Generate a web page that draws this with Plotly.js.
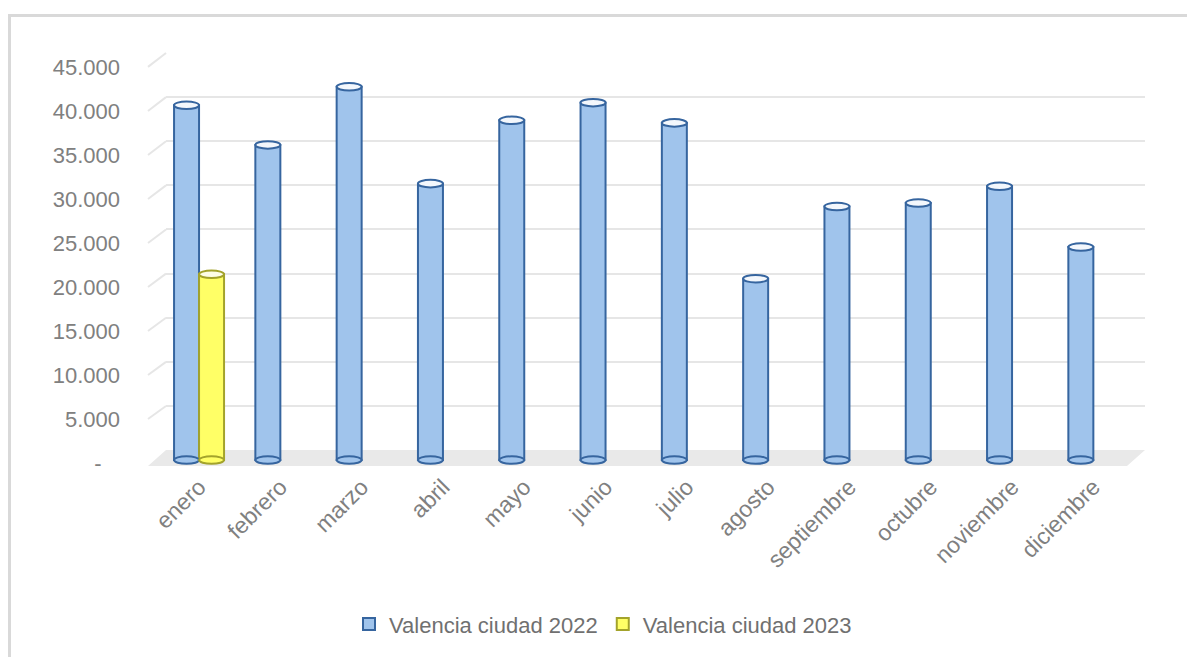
<!DOCTYPE html>
<html>
<head>
<meta charset="utf-8">
<script src="https://cdn.plot.ly/plotly-3.0.1.min.js"></script>
<style>
  html, body { margin: 0; padding: 0; background: #ffffff; }
  #chart { width: 1187px; height: 657px; }
  #frame { position: absolute; left: 8px; top: 14px; width: 1179px; height: 643px;
           border-top: 3px solid #d9d9d9; border-left: 3px solid #d9d9d9; box-sizing: border-box;
           pointer-events: none; }
</style>
</head>
<body>
<div id="chart"></div>
<div id="frame"></div>
<script>
// ---- data ----
const months = ['enero','febrero','marzo','abril','mayo','junio','julio','agosto','septiembre','octubre','noviembre','diciembre'];
const v2022 = [40300, 35800, 42400, 31400, 38600, 40600, 38300, 20600, 28800, 29200, 31100, 24200];
const v2023 = [21100, null, null, null, null, null, null, null, null, null, null, null];
const seriesNames = ['Valencia ciudad 2022', 'Valencia ciudad 2023'];
const tickVals = [0, 5000, 10000, 15000, 20000, 25000, 30000, 35000, 40000, 45000];
const tickText = ['-\u00a0\u00a0\u00a0', '5.000', '10.000', '15.000', '20.000', '25.000', '30.000', '35.000', '40.000', '45.000'];

// ---- geometry helpers (pixel -> paper) ----
const L = 148, R = 1147, T = 49, B = 470;
const pw = R - L, ph = B - T;
const px2x = p => (p - L) / pw;
const px2y = p => (B - p) / ph;

// front (bars) axis: 0 at 462px, 45000 at 64px
const frontZero = 462, frontTop = 64;
const k = (frontZero - frontTop) / 45000;
const yMin = -(B - frontZero) / k;
// back wall: 0 at 452px, 45000 at 53px
const backZero = 452, backTop = 53;
// label axis: 0 at 465px, 45000 at 67px
const labZero = 465, labTop = 67;

const bargap = 0.385;
const bw = (1 - bargap) / 2;
const offs = [-bw / 2, bw / 2];
const ellH = 3.8 / k;

const blueFill = 'rgb(160,196,236)';
const blueLine = '#36659f';
const yelFill = 'rgb(255,255,102)';
const yelLine = '#a3a32b';

const traces = [
  { type: 'scatter', x: [], y: [], xaxis: 'x', yaxis: 'y', showlegend: false, hoverinfo: 'skip' },
  { type: 'bar', name: seriesNames[0], x: months, y: v2022, xaxis: 'x2', yaxis: 'y2',
    marker: { color: blueFill, line: { color: blueLine, width: 2 } }, hoverinfo: 'x+y' },
  { type: 'bar', name: seriesNames[1], x: months, y: v2023, xaxis: 'x2', yaxis: 'y2',
    marker: { color: yelFill, line: { color: yelLine, width: 2 } }, hoverinfo: 'x+y' },
  { type: 'scatter', x: [], y: [], xaxis: 'x2', yaxis: 'y3', showlegend: false, hoverinfo: 'skip' }
];

const shapes = [];
// floor
shapes.push({ type: 'path', xref: 'paper', yref: 'paper', layer: 'below',
  path: `M${px2x(148)},${px2y(468)} L${px2x(1127)},${px2y(468)} L${px2x(1145)},${px2y(backZero)} L${px2x(166)},${px2y(backZero)} Z`,
  fillcolor: '#e9e9e9', line: { width: 0 } });
// left-wall gridline diagonals
tickVals.forEach(v => {
  if (v === 0) return;
  const fy = labZero - v * (labZero - labTop) / 45000;
  const by = backZero - v * (backZero - backTop) / 45000;
  shapes.push({ type: 'line', xref: 'paper', yref: 'paper', layer: 'below',
    x0: px2x(148), y0: px2y(fy), x1: px2x(166), y1: px2y(by),
    line: { color: '#e6e6e6', width: 2 } });
});
// cylinder caps
[v2022, v2023].forEach((vals, s) => {
  const fill = s === 0 ? blueFill : yelFill;
  const line = s === 0 ? blueLine : yelLine;
  const capFill = s === 0 ? '#f3f7fc' : '#fdfde6';
  vals.forEach((v, i) => {
    if (v === null) return;
    const x0 = i + offs[s] - bw / 2, x1 = i + offs[s] + bw / 2;
    shapes.push({ type: 'circle', xref: 'x2', yref: 'y2', layer: 'above',
      x0: x0, x1: x1, y0: -ellH, y1: ellH, fillcolor: fill, line: { color: line, width: 2 } });
    shapes.push({ type: 'circle', xref: 'x2', yref: 'y2', layer: 'above',
      x0: x0, x1: x1, y0: v - ellH, y1: v + ellH, fillcolor: capFill, line: { color: line, width: 2 } });
  });
});

const fontFam = '"Liberation Sans", Arial, sans-serif';
const layout = {
  width: 1187, height: 657,
  margin: { l: L, r: 1187 - R, t: T, b: 657 - B, pad: 0 },
  paper_bgcolor: '#ffffff', plot_bgcolor: 'rgba(0,0,0,0)',
  font: { family: fontFam, size: 21, color: '#808080' },
  barmode: 'group', bargap: bargap, bargroupgap: 0,
  showlegend: true,
  legend: { orientation: 'h', x: px2x(349), xanchor: 'left', y: px2y(627), yanchor: 'middle',
            font: { family: fontFam, size: 22, color: '#707070' }, bgcolor: 'rgba(0,0,0,0)' },
  xaxis: { domain: [px2x(166), px2x(1145)], range: [0, 1], showgrid: false, zeroline: false,
           showticklabels: false, showline: false, fixedrange: true },
  yaxis: { domain: [px2y(backZero), px2y(backTop)], range: [0, 45000], tickvals: tickVals,
           showgrid: true, gridcolor: '#e6e6e6', gridwidth: 2, zeroline: false,
           showticklabels: false, showline: false, fixedrange: true },
  xaxis2: { domain: [px2x(158.4), px2x(1134)], anchor: 'y2', type: 'category',
            showgrid: false, zeroline: false, showline: false, tickangle: -45,
            ticks: '',
            tickfont: { family: fontFam, size: 23, color: '#808080' }, fixedrange: true },
  yaxis2: { domain: [0, px2y(frontTop)], anchor: 'x2', range: [yMin, 45000],
            showticklabels: false, showgrid: false, zeroline: false, showline: false, fixedrange: true },
  yaxis3: { domain: [px2y(labZero), px2y(labTop)], anchor: 'x2', range: [0, 45000],
            tickvals: tickVals, ticktext: tickText, showgrid: false, zeroline: false, showline: false,
            ticks: 'outside', ticklen: 33, tickcolor: 'rgba(0,0,0,0)',
            tickfont: { family: fontFam, size: 22, color: '#808080' }, fixedrange: true },
  shapes: shapes
};

Plotly.newPlot('chart', traces, layout, { displayModeBar: false, staticPlot: true });
</script>
</body>
</html>
